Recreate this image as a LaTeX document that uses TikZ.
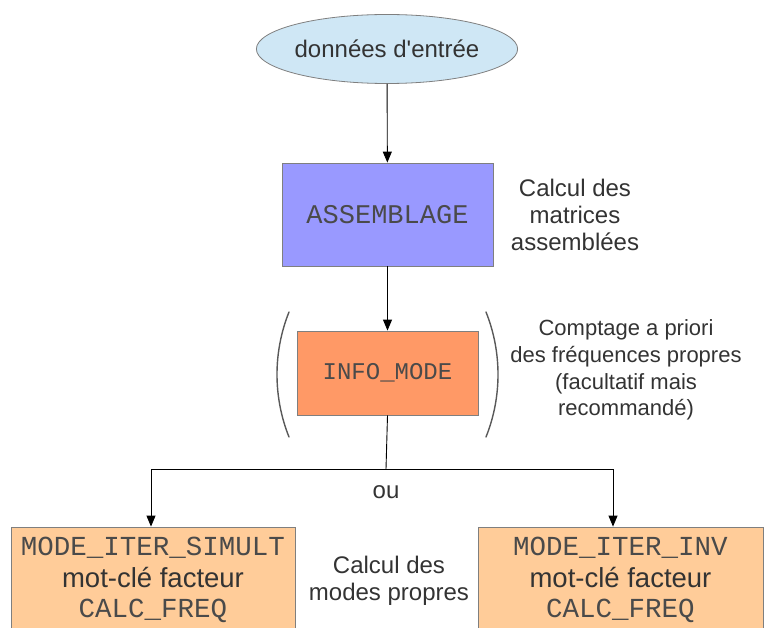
\documentclass[tikz,border=0pt]{standalone}
\usepackage{fontspec}
\setmainfont{Liberation Sans}
\setmonofont{Liberation Mono}
\newfontfamily\plainsans{Liberation Sans}
\usetikzlibrary{arrows.meta,shapes.geometric,calc}
\definecolor{txt}{HTML}{333333}
\definecolor{mono}{HTML}{4A4A4A}
\definecolor{edge}{HTML}{7F7F7F}
\definecolor{ellfill}{HTML}{CFE7F5}
\definecolor{assfill}{HTML}{9999FF}
\definecolor{infofill}{HTML}{FF9966}
\definecolor{modefill}{HTML}{FFCC99}
\begin{document}
\begin{tikzpicture}[x=1pt,y=-1pt,
  box/.style={draw=edge,line width=0.8pt,rectangle,inner sep=0pt},
  conn/.style={line width=0.9pt,black},
  arr/.style={conn,-{Triangle[length=11pt,width=9pt]}},
  lbl/.style={text=txt,align=center,font=\fontsize{24}{27}\selectfont},
  modebox/.style={box,fill=modefill,minimum height=106pt,align=center,text=mono,font=\fontsize{27.5}{31}\selectfont},
  paren/.style={line width=1.4pt,draw=black!65,line cap=round}]
\useasboundingbox (0,0) rectangle (773,628);
\clip (0,0) rectangle (773,628);
\node[ellipse,draw=edge,line width=0.8pt,fill=ellfill,minimum width=210pt,minimum height=69pt,inner sep=0pt,text=txt,font=\plainsans\fontsize{24}{27}\selectfont] (in) at (387,49) {donn\'ees d'entr\'ee};
\node[box,fill=assfill,minimum width=211pt,minimum height=103pt,text=mono,font=\ttfamily\fontsize{27}{30}\selectfont] (ass) at (387.5,214.5) {ASSEMBLAGE};
\node[box,fill=infofill,minimum width=181pt,minimum height=84pt,text=mono,font=\ttfamily\fontsize{24}{27}\selectfont] (info) at (387.5,373) {INFO\_MODE};
\node[modebox,minimum width=284pt] (lb) at (153,580)
  {\texttt{MODE\_ITER\_SIMULT}\\[1pt]{\color{txt}mot-cl\'e facteur}\\[-1pt]\texttt{CALC\_FREQ}};
\node[modebox,minimum width=285pt] (rb) at (620.5,580)
  {\texttt{MODE\_ITER\_INV}\\[1pt]{\color{txt}mot-cl\'e facteur}\\[-1pt]\texttt{CALC\_FREQ}};
\node[lbl] (t1) at (575,215) {Calcul des\\matrices\\assembl\'ees};
\node[lbl,font=\fontsize{22}{26.7}\selectfont] (t2) at (626,370) {Comptage a priori\\des fr\'equences propres\\(facultatif mais\\recommand\'e)};
\node[lbl] (t3) at (389,581) {Calcul des\\modes propres};
\node[lbl] (ou) at (386,492) {ou};
\coordinate (split) at (386,469);
\draw[arr] (in) -- (ass);
\draw[arr] (ass) -- (info);
\draw[conn] (info.south) -- (split);
\draw[arr] (split) -| ([xshift=-2pt]lb.north);
\draw[arr] (split) -| ([xshift=-7.5pt]rb.north);
\draw[paren] (289,312) .. controls (273,352) and (273,397) .. (289,437);
\draw[paren] (486,312) .. controls (502,352) and (502,397) .. (486,437);
\end{tikzpicture}
\end{document}
